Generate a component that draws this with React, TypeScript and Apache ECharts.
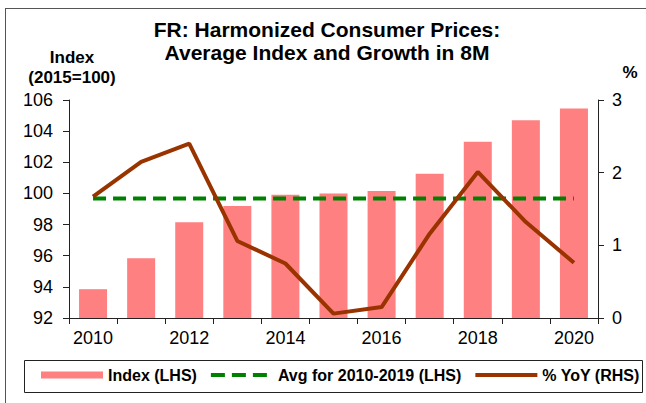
import React, { useEffect, useRef } from "react";
import * as echarts from "echarts";

const years = ["2010", "2011", "2012", "2013", "2014", "2015", "2016", "2017", "2018", "2019", "2020"];
const indexValues = [93.85, 95.84, 98.15, 99.2, 99.92, 100.0, 100.15, 101.26, 103.32, 104.7, 105.46];
const avgValues = [99.68, 99.68, 99.68, 99.68, 99.68, 99.68, 99.68, 99.68, 99.68, 99.68, 99.68];
const yoyValues = [1.67, 2.15, 2.4, 1.06, 0.75, 0.06, 0.15, 1.16, 2.01, 1.32, 0.76];

const FONT = "'Liberation Sans', Arial, sans-serif";

export default function App() {
  const ref = useRef<HTMLDivElement>(null);
  useEffect(() => {
    if (!ref.current) return;
    const chart = echarts.init(ref.current, null, { renderer: "svg" });
    const axisColor = "#222";
    chart.setOption({
      animation: false,
      backgroundColor: "#fff",
      textStyle: { fontFamily: FONT },
      title: {
        text: "FR: Harmonized Consumer Prices:\nAverage Index and Growth in 8M",
        left: 322,
        textAlign: "center",
        top: 13,
        textStyle: { fontFamily: FONT, fontSize: 21, fontWeight: "bold", color: "#000", lineHeight: 23 },
      },
      grid: { left: 69, right: 48, top: 100, bottom: 85, containLabel: false },
      xAxis: {
        type: "category",
        data: years,
        boundaryGap: true,
        axisLine: { lineStyle: { color: axisColor, width: 1 } },
        axisTick: { show: true, interval: 0, length: 6, inside: false, lineStyle: { color: axisColor } },
        axisLabel: { interval: 1, color: "#000", fontSize: 18, margin: 11, fontFamily: FONT },
        splitLine: { show: false },
      },
      yAxis: [
        {
          type: "value",
          min: 92,
          max: 106,
          interval: 2,
          position: "left",
          axisLine: { show: true, lineStyle: { color: axisColor } },
          axisTick: { show: true, length: 6, lineStyle: { color: axisColor } },
          axisLabel: { color: "#000", fontSize: 18, margin: 16, fontFamily: FONT },
          splitLine: { show: false },
        },
        {
          type: "value",
          min: 0,
          max: 3,
          interval: 1,
          position: "right",
          axisLine: { show: true, lineStyle: { color: axisColor } },
          axisTick: { show: true, length: 6, lineStyle: { color: axisColor } },
          axisLabel: { color: "#000", fontSize: 18, margin: 14, fontFamily: FONT },
          splitLine: { show: false },
        },
      ],
      legend: {
        left: 41,
        top: 367,
        itemGap: 12,
        itemWidth: 62,
        itemHeight: 7,
        padding: 0,
        textStyle: { fontFamily: FONT, fontSize: 16, fontWeight: "bold", color: "#000" },
        data: [
          { name: "Index (LHS)", icon: "rect" },
          {
            name: "Avg for 2010-2019 (LHS)",
            itemStyle: { opacity: 0 },
            lineStyle: { width: 4, type: [14, 7] },
          },
          {
            name: "% YoY (RHS)",
            itemStyle: { opacity: 0 },
            lineStyle: { width: 4 },
          },
        ],
      },
      series: [
        {
          name: "Index (LHS)",
          type: "bar",
          data: indexValues,
          yAxisIndex: 0,
          barWidth: 28,
          itemStyle: { color: "#FF8080" },
        },
        {
          name: "Avg for 2010-2019 (LHS)",
          type: "line",
          data: avgValues,
          yAxisIndex: 0,
          symbol: "none",
          lineStyle: { color: "#008000", width: 4, type: [13, 7] },
          itemStyle: { color: "#008000" },
        },
        {
          name: "% YoY (RHS)",
          type: "line",
          data: yoyValues,
          yAxisIndex: 1,
          symbol: "none",
          lineStyle: { color: "#993300", width: 4 },
          itemStyle: { color: "#993300" },
        },
      ],
      graphic: [
        { type: "line", shape: { x1: 5, y1: 8.5, x2: 646, y2: 8.5 }, style: { stroke: "#555", lineWidth: 1 } },
        { type: "line", shape: { x1: 5.5, y1: 8, x2: 5.5, y2: 403 }, style: { stroke: "#555", lineWidth: 1 } },
        {
          type: "rect",
          shape: { x: 24.5, y: 360.5, width: 618, height: 32 },
          style: { fill: "none", stroke: "#222", lineWidth: 1 },
          z: 10,
        },
        {
          type: "text",
          x: 72,
          y: 57,
          style: { text: "Index", fontFamily: FONT, fontSize: 17, fontWeight: "bold", fill: "#000", align: "center", verticalAlign: "middle" },
        },
        {
          type: "text",
          x: 72,
          y: 77,
          style: { text: "(2015=100)", fontFamily: FONT, fontSize: 17, fontWeight: "bold", fill: "#000", align: "center", verticalAlign: "middle" },
        },
        {
          type: "text",
          x: 630,
          y: 72,
          style: { text: "%", fontFamily: FONT, fontSize: 17, fontWeight: "bold", fill: "#000", align: "center", verticalAlign: "middle" },
        },
      ],
    });
    return () => chart.dispose();
  }, []);
  return <div ref={ref} style={{ position: "absolute", left: 0, top: 0, width: 646, height: 403 }} />;
}
